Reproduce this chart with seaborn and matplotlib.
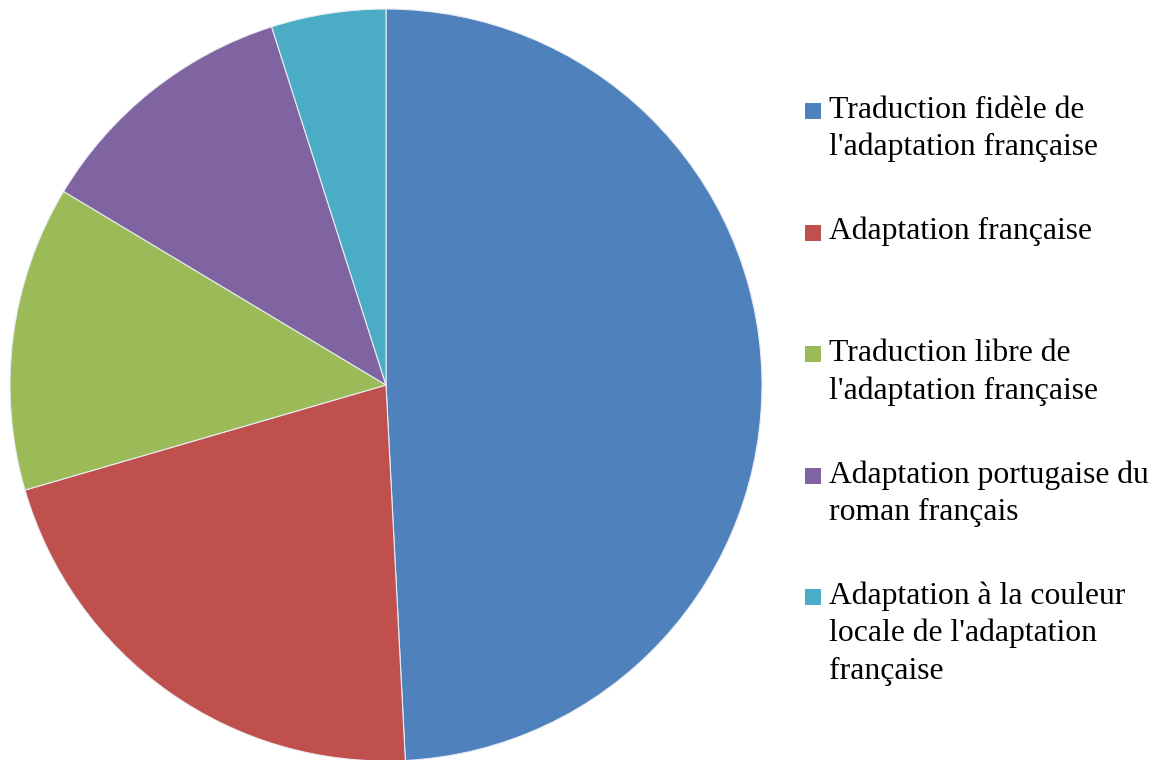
import matplotlib
matplotlib.use("Agg")
import matplotlib.pyplot as plt
import seaborn as sns
from matplotlib.patches import Rectangle

categories = [
    "Traduction fidèle de\nl'adaptation française",
    "Adaptation française",
    "Traduction libre de\nl'adaptation française",
    "Adaptation portugaise du\nroman français",
    "Adaptation à la couleur\nlocale de l'adaptation\nfrançaise",
]
values = [30, 13, 8, 7, 3]
colors = ["#4F81BD", "#C0504D", "#9BBB59", "#8064A2", "#4BACC6"]

sns.set_style("white")
plt.rcParams["font.family"] = ["Liberation Serif", "DejaVu Serif"]

W, H = 1168, 760
fig = plt.figure(figsize=(W / 100, H / 100), dpi=100)
# pie axes: center (386,385), radius 376 in pixels
cx, cy, r = 386, 385, 376
ax = fig.add_axes([(cx - r) / W, (H - cy - r) / H, 2 * r / W, 2 * r / H])
palette = sns.color_palette(colors)
ax.pie(values, colors=palette, startangle=90, counterclock=False, radius=1,
       wedgeprops=dict(edgecolor="#e8ecf2", linewidth=0.8))
ax.set_xlim(-1, 1)
ax.set_ylim(-1, 1)
ax.set_aspect("auto")
ax.axis("off")

# legend drawn manually
base0 = 118
step = 121.5
line_gap = 37.5
for i, (lab, col) in enumerate(zip(categories, colors)):
    b = base0 + i * step
    fig.patches.append(Rectangle((805 / W, (H - b - 1) / H), 16 / W, 16 / H,
                                 transform=fig.transFigure, facecolor=col,
                                 edgecolor="none"))
    for j, line in enumerate(lab.split("\n")):
        fig.text(829 / W, (H - b - j * line_gap) / H, line, fontsize=22.8,
                 va="baseline", ha="left", color="black")

fig.savefig("out.png", dpi=100)
